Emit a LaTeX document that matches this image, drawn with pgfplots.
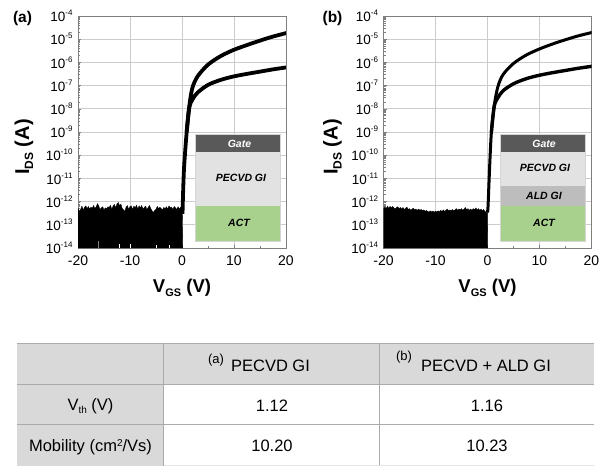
\documentclass[border=0pt]{standalone}
\usepackage{fontspec}
\setmainfont{Liberation Sans}
\usepackage{pgfplots}
\pgfplotsset{compat=1.18}
\definecolor{frame}{HTML}{7F7F7F}
\definecolor{gridc}{HTML}{CCCCCC}
\definecolor{gatec}{HTML}{595959}
\definecolor{pecvd}{HTML}{E2E2E2}
\definecolor{ald}{HTML}{BDBDBD}
\definecolor{actc}{HTML}{A9D18E}
\definecolor{tabg}{HTML}{D9D9D9}
\definecolor{tabl}{HTML}{ABABAB}
\newcommand{\fs}[1]{\fontsize{#1}{#1}\selectfont}
\newcommand{\tenp}[1]{\fs{13.5}10\raisebox{6pt}{\fs{8}-#1}}
\pgfplotsset{transferaxis/.style={
  scale only axis, width=208pt, height=232pt, anchor=south west,
  xmin=-20, xmax=20, ymin=1e-14, ymax=1e-4,
  axis line style={frame, line width=0.9pt},
  tick style={frame, line width=0.6pt},
  tick align=inside, tick pos=left,
  major tick length=3pt, minor tick length=2pt,
  xtick={-20,-10,0,10,20}, minor xtick={-15,-5,5,15},
  xticklabels={-20,-10,0,10,20},
  ytick={1e-14,1e-13,1e-12,1e-11,1e-10,1e-9,1e-8,1e-7,1e-6,1e-5,1e-4},
  yticklabels={\tenp{14},\tenp{13},\tenp{12},\tenp{11},\tenp{10},\tenp{9},\tenp{8},\tenp{7},\tenp{6},\tenp{5},\tenp{4}},
  grid=major, major grid style={gridc, line width=0.8pt},
  ticklabel style={font=\fs{14}},
  xticklabel style={yshift=-4pt},
  yticklabel style={xshift=-2pt},
  xlabel style={at={(axis description cs:0.5,-0.17)},anchor=center},
  xlabel={\fs{18.5}\bfseries V\raisebox{-4pt}{\fs{11}GS} (V)},
  ylabel={\fs{20}\bfseries I\raisebox{-4pt}{\fs{12}DS} (A)},
}}
\begin{document}
\begin{tikzpicture}[x=1pt,y=1pt]
\path[use as bounding box] (0,0) rectangle (608,466);

% ---------- panel (a)
\begin{semilogyaxis}[transferaxis, at={(78pt,218pt)},
  ylabel style={at={(axis description cs:-0.26,0.435)},anchor=center,rotate=0}]
\addplot[fill=black, draw=black, line width=0.3pt] table {
-20 1e-14
-20 5.2e-13
-19.75 3.8e-13
-19.5 4.6e-13
-19.25 6.4e-13
-19 4.4e-13
-18.75 5.6e-13
-18.5 6.6e-13
-18.25 5.0e-13
-18 6.2e-13
-17.75 4.8e-13
-17.5 5.8e-13
-17.25 5.2e-13
-17 6.8e-13
-16.75 5.0e-13
-16.5 6.0e-13
-16.25 8.2e-13
-16 6.4e-13
-15.75 4.6e-13
-15.5 5.4e-13
-15.25 6.0e-13
-15 4.4e-13
-14.75 5.4e-13
-14.5 4.8e-13
-14.25 6.0e-13
-14 5.6e-13
-13.75 7.0e-13
-13.5 4.6e-13
-13.25 6.6e-13
-13 7.6e-13
-12.75 5.4e-13
-12.5 8.0e-13
-12.25 9.2e-13
-12 6.6e-13
-11.75 7.8e-13
-11.5 5.2e-13
-11 3.8e-13
-10.75 5.8e-13
-10.5 6.8e-13
-10.25 4.6e-13
-10 6.2e-13
-9.75 6.6e-13
-9.5 4.6e-13
-9.25 6.4e-13
-9 5.4e-13
-8.75 7.0e-13
-8.5 4.8e-13
-8.25 6.6e-13
-8 5.4e-13
-7.75 6.8e-13
-7.5 4.8e-13
-7.25 5.6e-13
-7 6.4e-13
-6.75 4.6e-13
-6.5 5.6e-13
-6.25 6.8e-13
-6 5.0e-13
-5.75 4.0e-13
-5.5 3.4e-13
-5.25 4.2e-13
-5 4.8e-13
-4.75 6.2e-13
-4.5 5.0e-13
-4.25 5.8e-13
-4 5.0e-13
-3.75 4.4e-13
-3.5 5.6e-13
-3.25 5.0e-13
-3 6.0e-13
-2.75 4.8e-13
-2.5 6.6e-13
-2.25 5.4e-13
-2 5.8e-13
-1.75 4.6e-13
-1.5 6.2e-13
-1.25 5.4e-13
-1 4.6e-13
-0.75 6.0e-13
-0.5 4.8e-13
-0.25 5.8e-13
0.05 5.0e-13
0.15 1e-14
};
\addplot[gray, line width=1pt] table {
-16 1e-14
-16 2.0e-14
};
\addplot[white, line width=0.6pt] table {
-12 1e-14
-12 1.5e-14
};
\addplot[white, line width=0.6pt] table {
-10 1e-14
-10 1.5e-14
};
\addplot[white, line width=0.6pt] table {
-5 1e-14
-5 1.3e-14
};
\addplot[white, line width=0.6pt] table {
-2.5 1e-14
-2.5 1.3e-14
};
\addplot[black, line width=3.8pt, smooth] table {
0.1 3e-13
0.2 2e-12
0.4 3e-11
0.9 1e-9
1.4 1.3e-8
2 8e-8
3 2.5e-7
5 8e-7
7.5 1.9e-6
10 3.5e-6
12.5 5.6e-6
15 8.7e-6
17.5 1.3e-5
20.3 1.9e-5
};
\addplot[black, line width=3.8pt, smooth] table {
0.9 1e-9
1.4 1.1e-8
2 2.5e-8
3 5e-8
5 1.07e-7
7.5 1.78e-7
10 2.5e-7
12.5 3.2e-7
15 4e-7
17.5 5e-7
20.3 6.2e-7
};
\end{semilogyaxis}

% ---------- panel (b)
\begin{semilogyaxis}[transferaxis, at={(383.5pt,218pt)},
  ylabel style={at={(axis description cs:-0.245,0.435)},anchor=center,rotate=0}]
\addplot[fill=black, draw=black, line width=0.3pt] table {
-20 1e-14
-20 4.6e-13
-19.75 6.0e-13
-19.5 5.0e-13
-19.25 6.4e-13
-19 5.2e-13
-18.75 6.2e-13
-18.5 5.4e-13
-18.25 6.2e-13
-18 5.4e-13
-17.75 4.8e-13
-17.5 5.6e-13
-17.25 6.0e-13
-17 5.0e-13
-16.75 5.6e-13
-16.5 4.8e-13
-16.25 5.6e-13
-16 4.6e-13
-15.75 5.2e-13
-15.5 5.8e-13
-15.25 4.6e-13
-15 5.0e-13
-14.75 4.2e-13
-14.5 4.8e-13
-14.25 5.2e-13
-14 4.4e-13
-13.75 4.8e-13
-13.5 4.2e-13
-13.25 4.8e-13
-13 4.2e-13
-12.75 4.6e-13
-12.5 4.0e-13
-12.25 4.4e-13
-12 3.8e-13
-11.75 4.2e-13
-11.5 3.8e-13
-11.25 3.6e-13
-11 4.0e-13
-10.75 3.6e-13
-10.5 3.9e-13
-10.25 3.5e-13
-10 3.9e-13
-9.75 3.6e-13
-9.5 4.0e-13
-9.25 3.7e-13
-9 4.2e-13
-8.75 3.8e-13
-8.5 4.4e-13
-8.25 3.8e-13
-8 4.2e-13
-7.75 4.8e-13
-7.5 4.0e-13
-7.25 4.4e-13
-7 4.0e-13
-6.75 4.6e-13
-6.5 4.0e-13
-6.25 4.4e-13
-6 5.0e-13
-5.75 4.2e-13
-5.5 4.8e-13
-5.25 4.4e-13
-5 5.0e-13
-4.75 4.2e-13
-4.5 4.8e-13
-4.25 5.6e-13
-4 4.4e-13
-3.75 5.0e-13
-3.5 4.2e-13
-3.25 4.8e-13
-3 4.2e-13
-2.75 5.0e-13
-2.5 4.4e-13
-2.25 5.4e-13
-2 4.4e-13
-1.75 5.0e-13
-1.5 4.2e-13
-1.25 4.8e-13
-1 4.0e-13
-0.75 4.6e-13
-0.5 3.8e-13
-0.25 3.4e-13
0 3.4e-13
0.05 1e-14
};
\addplot[black, line width=3pt, smooth] table {
0 3.4e-13
0.1 6e-13
0.25 4e-12
0.45 5e-11
0.75 1e-9
1.3 1.4e-8
2 9e-8
3 3e-7
5 9e-7
7.5 2.1e-6
10 3.8e-6
12.5 6.2e-6
15 9.5e-6
17.5 1.4e-5
20.3 2.0e-5
};
\addplot[black, line width=3.4pt, smooth] table {
0.75 1e-9
1.3 1.3e-8
2 3e-8
3 6e-8
5 1.2e-7
7.5 2e-7
10 2.8e-7
12.5 3.6e-7
15 4.5e-7
17.5 5.6e-7
20.3 6.9e-7
};
\end{semilogyaxis}

% panel letters
\node[font=\fs{15.5}\bfseries] at (22.5,448) {(a)};
\node[font=\fs{15.5}\bfseries] at (332.5,448) {(b)};

% ---------- inset (a)
\draw[gatec!25, line width=0.8pt, fill=white] (195.5,224.5) rectangle (280.5,331.5);
\fill[gatec] (196,314) rectangle (280,331);
\fill[pecvd] (196,260) rectangle (280,314);
\fill[actc] (196,225) rectangle (280,260);
\node[font=\fs{10.5}\bfseries\itshape, text=white] at (239.5,322.5) {Gate};
\node[font=\fs{10.5}\bfseries\itshape] at (241,288) {PECVD GI};
\node[font=\fs{10.5}\bfseries\itshape] at (239,243) {ACT};

% ---------- inset (b)
\draw[gatec!25, line width=0.8pt, fill=white] (500.5,224.5) rectangle (585.5,331.5);
\fill[gatec] (501,314) rectangle (585,331);
\fill[pecvd] (501,280) rectangle (585,314);
\fill[ald] (501,260) rectangle (585,280);
\fill[actc] (501,225) rectangle (585,260);
\node[font=\fs{10.5}\bfseries\itshape, text=white] at (544,322.5) {Gate};
\node[font=\fs{10.5}\bfseries\itshape] at (545,298) {PECVD GI};
\node[font=\fs{10.5}\bfseries\itshape] at (544,270) {ALD GI};
\node[font=\fs{10.5}\bfseries\itshape] at (544,243) {ACT};

% ---------- table
\fill[tabg] (17,81) rectangle (594,122);
\fill[tabg] (17,0) rectangle (163.5,81);
\draw[tabl, line width=1pt] (17,122) -- (594,122);
\draw[tabl, line width=1pt] (17,81) -- (594,81);
\draw[tabl, line width=1pt] (17,41) -- (594,41);
\draw[tabl, line width=1pt] (163.5,0) -- (163.5,122);
\draw[tabl, line width=1pt] (379,0) -- (379,122);
\draw[gridc!50, line width=0.5pt] (163.5,0.3) -- (594,0.3);

\node[font=\fs{16.5}, anchor=center] at (270.5,100.5) {PECVD GI};
\node[font=\fs{13}, anchor=center] at (216,106) {(a)};
\node[font=\fs{16.5}, anchor=center] at (486,100.5) {PECVD + ALD GI};
\node[font=\fs{13}, anchor=center] at (404,109) {(b)};
\node[font=\fs{16.5}, anchor=center] at (90.5,59.5) {V\raisebox{-3pt}{\fs{10}th} (V)};
\node[font=\fs{16.5}, anchor=center] at (90.5,19) {Mobility (cm\raisebox{5pt}{\fs{10}2}/Vs)};
\node[font=\fs{16.5}, anchor=center] at (272,60) {1.12};
\node[font=\fs{16.5}, anchor=center] at (487,60) {1.16};
\node[font=\fs{16.5}, anchor=center] at (272,20) {10.20};
\node[font=\fs{16.5}, anchor=center] at (487,20) {10.23};
\end{tikzpicture}
\end{document}
